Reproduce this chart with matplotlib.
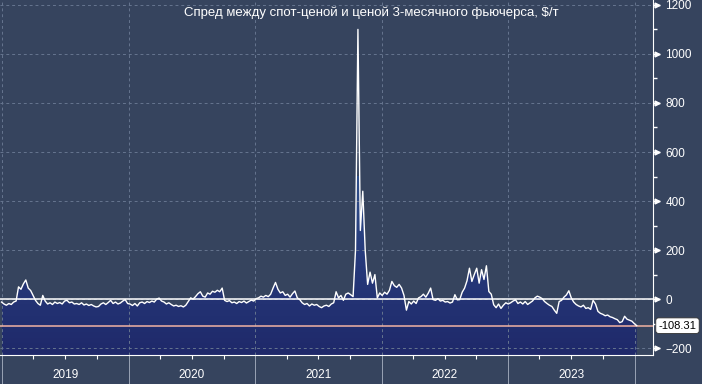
import matplotlib
matplotlib.use('Agg')
import matplotlib.pyplot as plt
import matplotlib.dates as mdates
import matplotlib.transforms as mtransforms
from matplotlib.colors import LinearSegmentedColormap
import numpy as np
import pandas as pd

plt.rcParams['font.family'] = ['Liberation Sans', 'DejaVu Sans']

title = 'Спред между спот-ценой и ценой 3-месячного фьючерса, $/т'

# weekly values, $/t (starts end of Dec 2018)
spread_2019 = [-12, -20, -25, -18, -22, -12, -8, 50, 40, 62, 78, 45, 35, 15, -5, -18, -25, 15,
               -8, -20, -15, -22, -12, -18, -14, -20, -8, -5, -15, -12, -20, -18, -22, -15, -24,
               -20, -26, -22, -28, -32, -30, -20, -15, -22, -14, -5, -18, -12, -20, -16, -8, -2, -18]
spread_2020 = [-20, -26, -18, -28, -15, -12, -18, -10, -14, -8, -12, 0, 4, -8, -12, -20, -15,
               -22, -28, -25, -30, -27, -32, -25, -10, 5, 0, 10, 22, 30, 12, 8, 25, 20, 32, 28,
               36, 30, 45, -5, -10, -6, -15, -12, -18, -10, -14, -8, -16, -10, -4, -8, 2]
spread_2021 = [5, 12, 8, 15, 10, 20, 45, 68, 40, 25, 30, 15, 20, 8, 22, 33, 5, -2, -15, -22,
               -18, -28, -20, -25, -22, -30, -35, -28, -25, -30, -20, -15, 30, 5, 15, -5, 20, 25,
               18, 10, 200, 1100, 280, 440, 200, 60, 110, 65, 100, 5, 25, 15]
spread_2022 = [28, 20, 36, 72, 55, 48, 60, 45, 15, -45, -10, -20, -8, -18, 5, 10, 20, 8, 24, 45,
               -2, -5, 2, -8, -5, -12, -10, -16, -12, 18, -3, -2, 28, 45, 75, 126, 72, 100, 126,
               65, 120, 80, 136, 31, 20, -23, -35, -20, -38, -25, -15, -20]
spread_2023 = [-15, -8, -3, -18, -12, -20, -10, -22, -15, -8, 5, 12, 8, 2, -10, -18, -25, -30,
               -45, -58, -10, -5, 8, 17, 34, 5, -12, -22, -28, -32, -25, -38, -35, -42, -5, -20,
               -50, -58, -62, -68, -65, -72, -75, -80, -84, -96, -92, -70, -82, -86, -90, -100]
last_value = -108.31

spread = spread_2019 + spread_2020 + spread_2021 + spread_2022 + spread_2023 + [last_value]
dates = pd.date_range('2018-12-30', periods=len(spread), freq='7D')

years = ['2019', '2020', '2021', '2022', '2023']
y_ticks = [-200, 0, 200, 400, 600, 800, 1000, 1200]

BG = '#36445e'
GRID = '#66758f'

fig = plt.figure(figsize=(7.02, 3.84), dpi=100, facecolor=BG)
ax = fig.add_axes([0, 29 / 384, 653 / 702, 355 / 384])
ax.set_facecolor(BG)

x_min = pd.Timestamp('2018-12-25 12:00')
x_max = pd.Timestamp('2024-02-23')
y_min, y_max = -228, 1220

# gradient fill under the line
fill = ax.fill_between(dates, spread, y_min, color='none', lw=0)
cmap = LinearSegmentedColormap.from_list('fill', ['#1f296a', '#26397a', '#2f4f8a'])
grad = np.linspace(0, 1, 256).reshape(-1, 1)
img = ax.imshow(grad, cmap=cmap, origin='lower', aspect='auto', zorder=1,
                extent=[mdates.date2num(dates[0]), mdates.date2num(dates[-1]), y_min, 500])
img.set_clip_path(fill.get_paths()[0], transform=ax.transData)

ax.plot(dates, spread, color='white', lw=1.0, zorder=4)
ax.axhline(0, color='white', lw=1.1, zorder=3)
ax.axhline(last_value, color='#f2b3a3', lw=1.1, zorder=3)

ax.set_xlim(x_min, x_max)
ax.set_ylim(y_min, y_max)

# grid
ax.set_yticks(y_ticks)
ax.yaxis.set_minor_locator(matplotlib.ticker.MultipleLocator(100))
ax.xaxis.set_major_locator(mdates.YearLocator())
ax.xaxis.set_minor_locator(mdates.MonthLocator(bymonth=[4, 7, 10]))
ax.xaxis.set_major_formatter(matplotlib.ticker.NullFormatter())
ax.grid(True, which='major', color=GRID, linestyle=(0, (3, 3)), lw=0.7, zorder=0)

for side in ['left', 'top']:
    ax.spines[side].set_visible(False)
ax.spines['right'].set_color('white')
ax.spines['bottom'].set_color('white')

ax.yaxis.tick_right()
ax.tick_params(axis='y', which='major', direction='out', length=5, width=1, color='white',
               labelcolor='white', labelsize=8.5, pad=4)
ax.tick_params(axis='y', which='minor', direction='out', length=3, width=1, color='white')
ax.tick_params(axis='x', which='major', direction='out', length=21, width=0.7, color='#9aa3b5')
ax.tick_params(axis='x', which='minor', direction='out', length=3, width=0.8, color='white')

# arrow heads on the value ticks
trans = mtransforms.blended_transform_factory(ax.transAxes, ax.transData)
arrow_trans = mtransforms.offset_copy(trans, fig=fig, x=4, y=0, units='dots')
ax.plot([1] * len(y_ticks), y_ticks, '>', ms=3.5, color='white', transform=arrow_trans,
        clip_on=False, zorder=5)

# year labels in the middle of each year
year_trans = mtransforms.blended_transform_factory(ax.transData, ax.transAxes)
for y in years:
    ax.text(pd.Timestamp(y + '-07-02'), -20 / 355, y, transform=year_trans, ha='center',
            va='center', color='white', fontsize=8.5)

# last value box
ax.annotate(f'{last_value:.2f}', xy=(1, last_value), xycoords=trans, xytext=(4, 0),
            textcoords='offset points', ha='left', va='center', fontsize=8, color='black',
            bbox=dict(boxstyle='round,pad=0.25', fc='white', ec='#333333', lw=0.6),
            annotation_clip=False, zorder=6)

fig.text(371 / 702, 1 - 13 / 384, title, ha='center', va='center', color='white', fontsize=9.5)

fig.savefig('out.png', dpi=100, facecolor=BG)
